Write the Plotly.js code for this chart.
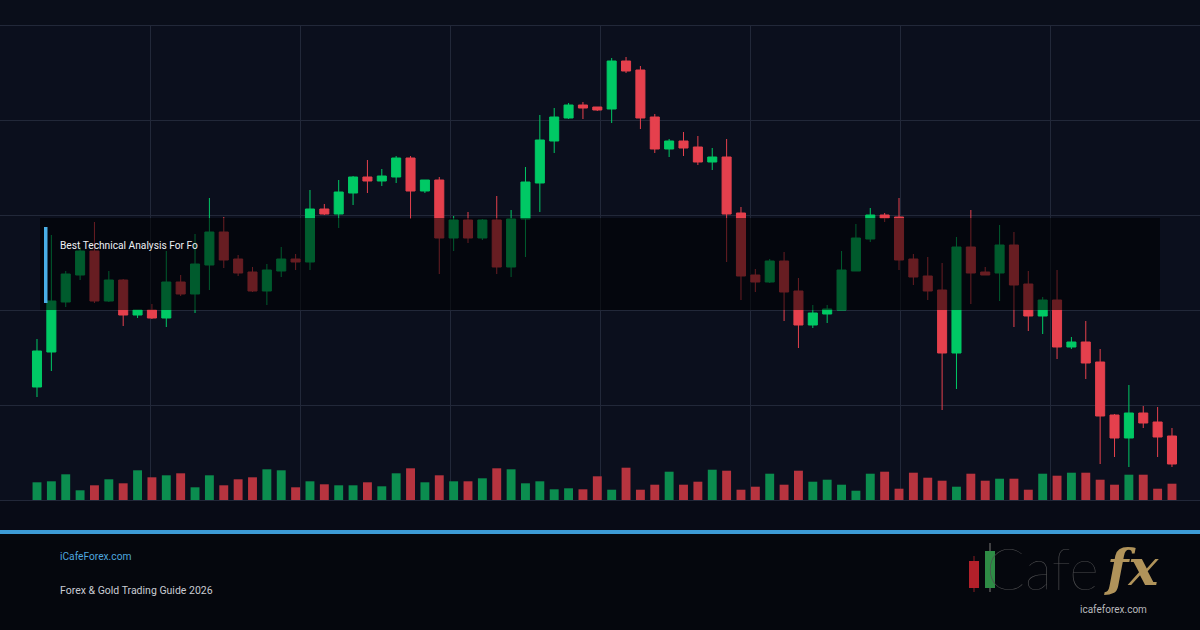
<!DOCTYPE html>
<html>
<head>
<meta charset="utf-8">
<script src="https://cdn.plot.ly/plotly-3.0.1.min.js"></script>
<style>
html,body{margin:0;padding:0;background:#0a0e1a;}
#chart{width:1200px;height:630px;}
</style>
</head>
<body>
<div id="chart"></div>
<script>
// ---- Data ----
const openP  = [2113,2148,2198,2225,2249,2199,2220,2185,2190,2182,2218,2206,2235,2268,2241,2228,2209,2229,2241,2238,
                2291,2286,2307,2323,2319,2323,2342,2309,2320,2262,2280,2262,2280,2233,2281,2317,2359,2382,2395,2393,
                2391,2439,2430,2383,2351,2359,2353,2338,2343,2287,2225,2218,2239,2209,2175,2186,2190,2229,2261,2285,
                2283,2241,2224,2210,2147,2253,2228,2227,2255,2216,2184,2200,2153,2158,2138,2085,2062,2087,2078,2064];
const highP  = [2161,2265,2229,2253,2278,2229,2221,2190,2196,2249,2225,2266,2302,2283,2245,2233,2236,2253,2246,2310,
                2296,2320,2324,2340,2331,2344,2344,2320,2323,2284,2288,2281,2304,2290,2333,2385,2392,2397,2398,2393,
                2442,2443,2434,2386,2361,2368,2364,2352,2361,2293,2231,2241,2248,2222,2195,2195,2249,2276,2292,2287,
                2302,2246,2243,2237,2263,2290,2233,2275,2268,2229,2203,2230,2163,2179,2151,2086,2115,2094,2093,2072];
const lowP   = [2103,2129,2193,2220,2197,2198,2174,2182,2181,2173,2204,2187,2210,2232,2224,2208,2195,2223,2230,2230,
                2285,2272,2295,2307,2314,2317,2281,2307,2226,2249,2257,2260,2226,2223,2243,2288,2347,2381,2381,2389,
                2377,2427,2371,2347,2343,2344,2335,2330,2238,2200,2208,2217,2179,2152,2172,2177,2190,2229,2258,2278,
                2230,2215,2200,2090,2111,2196,2225,2199,2173,2169,2166,2141,2151,2121,2036,2043,2033,2072,2043,2033];
const closeP = [2149,2199,2226,2249,2199,2220,2185,2190,2182,2218,2206,2236,2268,2240,2227,2209,2230,2241,2238,2291,
                2286,2308,2323,2319,2324,2342,2309,2320,2262,2280,2262,2280,2233,2281,2318,2360,2383,2395,2392,2390,
                2439,2429,2382,2351,2359,2352,2338,2343,2286,2224,2218,2239,2208,2175,2187,2191,2230,2262,2285,2282,
                2240,2223,2209,2147,2253,2227,2225,2255,2215,2184,2200,2153,2158,2137,2084,2062,2087,2077,2063,2036];
const volume = [1770,1870,2570,970,1470,2070,1670,2970,2270,2470,2670,1270,2470,1470,2070,2270,3070,2970,1270,1870,
                1570,1470,1470,1770,1370,2670,3170,1770,2470,1870,1870,2170,3170,3070,1670,1870,1070,1170,1070,2370,
                1030,3230,1030,1530,2830,1530,1830,3030,2930,1030,1330,2630,1530,2930,1830,2030,1530,930,2630,2830,
                1130,2730,2230,1930,1330,2630,1930,2130,2130,1030,2630,2430,2730,2730,2030,1530,2530,2530,1130,1630];
const bandLabel = "Best Technical Analysis For Fo";
const siteLabel = "iCafeForex.com";
const guideLabel = "Forex & Gold Trading Guide 2026";
const logoWord = "Cafe";
const logoFx = "fx";
const logoUrl = "icafeforex.com";

const idx = openP.map((_, i) => i);

// ---- Style ----
const UP = '#00c965', DOWN = '#e5404d';
const VUP = '#0b8d4f', VDOWN = '#b7343f';
const GRID = '#222839';

// pixel helpers for decorative layout (plot area: x 0..1200, y 25..500)
const px = x => x / 1200;
const py = y => (500 - y) / 475;

const volColors = idx.map(i => closeP[i] >= openP[i] ? VUP : VDOWN);

const traces = [
  {
    type: 'bar', x: idx, y: volume, yaxis: 'y2', width: 0.62,
    marker: {color: volColors, line: {width: 0}}, hoverinfo: 'skip'
  },
  {
    type: 'candlestick', x: idx, open: openP, high: highP, low: lowP, close: closeP,
    increasing: {line: {color: UP, width: 1}, fillcolor: UP},
    decreasing: {line: {color: DOWN, width: 1}, fillcolor: DOWN},
    whiskerwidth: 0, hoverinfo: 'skip'
  }
];

const shapes = [
  // edge grid lines (top and bottom of plot area)
  {type: 'line', xref: 'paper', yref: 'paper', x0: 0, x1: 1, y0: py(25.5), y1: py(25.5),
   line: {color: GRID, width: 1}, layer: 'below'},
  {type: 'line', xref: 'paper', yref: 'paper', x0: 0, x1: 1, y0: py(500.5), y1: py(500.5),
   line: {color: GRID, width: 1}, layer: 'above'},
  // band overlay
  {type: 'rect', xref: 'paper', yref: 'paper', x0: px(40), x1: px(1160), y0: py(310), y1: py(218),
   fillcolor: 'rgba(0,0,0,0.55)', line: {width: 0}, layer: 'above'},
  // band accent bar
  {type: 'rect', xref: 'paper', yref: 'paper', x0: px(44), x1: px(47.5), y0: py(303), y1: py(227),
   fillcolor: '#4aaee6', line: {width: 0}, layer: 'above'},
  // area between plot and footer
  {type: 'rect', xref: 'paper', yref: 'paper', x0: 0, x1: 1, y0: py(530), y1: py(501),
   fillcolor: '#080b16', line: {width: 0}, layer: 'below'},
  // footer background
  {type: 'rect', xref: 'paper', yref: 'paper', x0: 0, x1: 1, y0: py(630), y1: py(534),
   fillcolor: '#05070d', line: {width: 0}, layer: 'below'},
  // footer divider
  {type: 'rect', xref: 'paper', yref: 'paper', x0: 0, x1: 1, y0: py(534), y1: py(530),
   fillcolor: '#3d9bd6', line: {width: 0}, layer: 'above'},
  // logo icon: red candle
  {type: 'line', xref: 'paper', yref: 'paper', x0: px(974), x1: px(974), y0: py(592), y1: py(556),
   line: {color: '#8a1c22', width: 1}},
  {type: 'rect', xref: 'paper', yref: 'paper', x0: px(969), x1: px(979), y0: py(588), y1: py(561),
   fillcolor: '#b3202a', line: {width: 0}},
  // logo icon: green candle
  {type: 'line', xref: 'paper', yref: 'paper', x0: px(990), x1: px(990), y0: py(592), y1: py(543),
   line: {color: '#555', width: 1.5}},
  {type: 'rect', xref: 'paper', yref: 'paper', x0: px(985), x1: px(995), y0: py(588), y1: py(551),
   fillcolor: '#2e8b45', line: {width: 0}}
];

const annotations = [
  {xref: 'paper', yref: 'paper', x: px(58), y: py(245), xanchor: 'left', yanchor: 'middle',
   text: bandLabel, showarrow: false, font: {family: 'Roboto', size: 10.2, color: '#eef0f4'}},
  {xref: 'paper', yref: 'paper', x: px(58), y: py(556), xanchor: 'left', yanchor: 'middle',
   text: siteLabel, showarrow: false, font: {family: 'Roboto', size: 10.2, color: '#4ea6df'}},
  {xref: 'paper', yref: 'paper', x: px(58), y: py(590), xanchor: 'left', yanchor: 'middle',
   text: guideLabel, showarrow: false, font: {family: 'Roboto', size: 10.5, color: '#c9ccd3'}},
  {xref: 'paper', yref: 'paper', x: px(1101), y: py(568), xanchor: 'right', yanchor: 'middle',
   text: logoWord, showarrow: false, font: {family: 'Lato', size: 57, weight: 100, color: '#4d4d4f'}},
  {xref: 'paper', yref: 'paper', x: px(1102), y: py(567), xanchor: 'left', yanchor: 'middle',
   text: logoFx, showarrow: false, font: {family: 'DejaVu Serif', size: 50, weight: 700, style: 'italic', color: '#b0935a'}},
  {xref: 'paper', yref: 'paper', x: px(1113), y: py(609), xanchor: 'center', yanchor: 'middle',
   text: logoUrl, showarrow: false, font: {family: 'Roboto', size: 10, color: '#b9b9bd'}}
];

const layout = {
  width: 1200, height: 630,
  margin: {l: 0, r: 0, t: 25, b: 130, pad: 0},
  paper_bgcolor: '#0a0e1a',
  plot_bgcolor: '#0b0f1d',
  showlegend: false,
  boxgap: 0.1,
  xaxis: {
    range: [-2.575, 80.95], tick0: -2.575, dtick: 10.4406,
    showgrid: true, gridcolor: GRID, gridwidth: 1,
    showticklabels: false, zeroline: false, showline: false, ticks: '',
    rangeslider: {visible: false}, fixedrange: true
  },
  yaxis: {
    range: [2000, 2475], tick0: 2000, dtick: 95,
    showgrid: true, gridcolor: GRID, gridwidth: 1,
    showticklabels: false, zeroline: false, showline: false, ticks: '', fixedrange: true
  },
  yaxis2: {
    overlaying: 'y', range: [0, 47500], showgrid: false, showticklabels: false,
    zeroline: false, showline: false, ticks: '', fixedrange: true
  },
  shapes: shapes,
  annotations: annotations
};

Plotly.newPlot('chart', traces, layout, {staticPlot: true, displayModeBar: false});
</script>
</body>
</html>
